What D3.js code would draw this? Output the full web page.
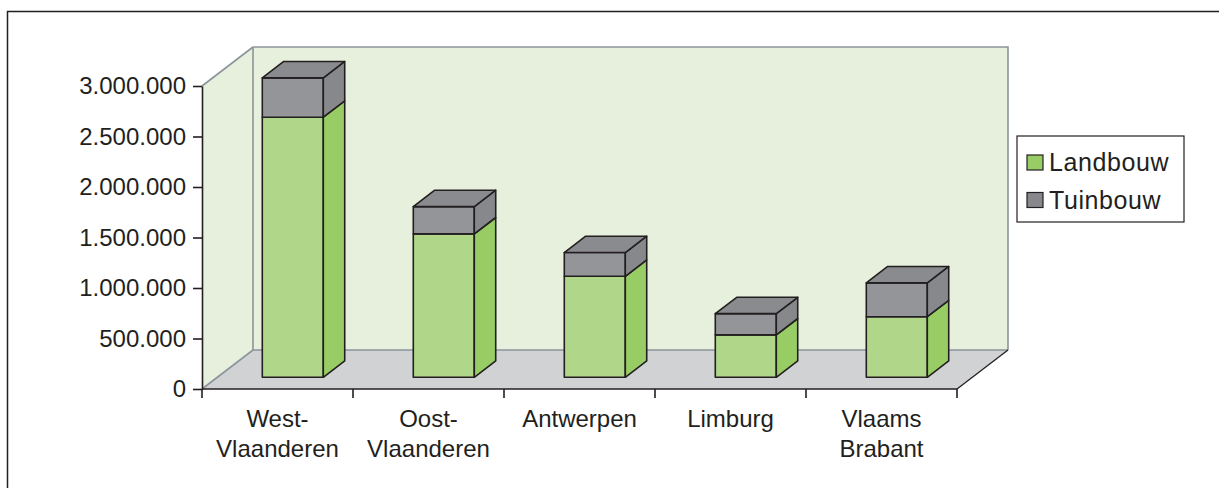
<!DOCTYPE html>
<html>
<head>
<meta charset="utf-8">
<script src="https://cdn.jsdelivr.net/npm/d3@7"></script>
<style>
	html, body { margin: 0; padding: 0; background: #fff; }
	svg text { font-family: "Liberation Sans", Arial, sans-serif; fill: #231f20; }
</style>
</head>
<body>
<div id="chart"></div>
<script>
'use strict';

// data
var provinces = ['West-Vlaanderen', 'Oost-Vlaanderen', 'Antwerpen', 'Limburg', 'Vlaams Brabant'];
var labelLines = [['West-', 'Vlaanderen'], ['Oost-', 'Vlaanderen'], ['Antwerpen'], ['Limburg'], ['Vlaams', 'Brabant']];
var landbouw = [2575000, 1420000, 1000000, 420000, 600000];
var tuinbouw = [390000, 270000, 235000, 210000, 335000];
var yTicks = [0, 500000, 1000000, 1500000, 2000000, 2500000, 3000000];
var seriesNames = ['Landbouw', 'Tuinbouw'];

var W = 1219, H = 488;
var ink = '#231f20';
var wallLine = '#8b959b';
var dx = 51, dy = 39;        // depth of the 3d box
var z1 = 0.3, z2 = 0.72;    // depth of the bars inside the box
var colors = {
	Landbouw: { front: '#b0d68a', side: '#98cc64', top: '#a4d079', legend: '#98cc64' },
	Tuinbouw: { front: '#939598', side: '#86888b', top: '#8a8b8e', legend: '#86888b' }
};

var nl = d3.formatLocale({ decimal: ',', thousands: '.', grouping: [3], currency: ['€', ''] });
var fmt = nl.format(',d');

var svg = d3.select('#chart').append('svg')
	.attr('width', W)
	.attr('height', H);

// outer frame
svg.append('rect')
	.attr('x', 7.5).attr('y', 11.5)
	.attr('width', W + 20).attr('height', H + 20)
	.attr('fill', 'none')
	.attr('stroke', ink)
	.attr('stroke-width', 1.5);

var x = d3.scaleBand().domain(provinces).range([202, 957]).padding(0);
var y = d3.scaleLinear().domain([0, 3000000]).range([389, 86]);
var barW = x.bandwidth() * 0.404;

function P(px, v, z){
	return [px + z*dx, y(v) - z*dy];
}
function poly(pts){
	return 'M' + pts.map(function(p){ return p[0] + ',' + p[1]; }).join('L') + 'Z';
}

var x0 = x.range()[0], x1 = x.range()[1], vMax = y.domain()[1];

// walls and floor
var box = svg.append('g').attr('class', 'box');
box.append('path')
	.attr('d', poly([P(x0, 0, 0), P(x0, vMax, 0), P(x0, vMax, 1), P(x0, 0, 1)]))
	.attr('fill', '#e7f0dc');
box.append('path')
	.attr('d', poly([P(x0, 0, 1), P(x0, vMax, 1), P(x1, vMax, 1), P(x1, 0, 1)]))
	.attr('fill', '#e7f0dc');
box.append('path')
	.attr('d', poly([P(x0, 0, 0), P(x1, 0, 0), P(x1, 0, 1), P(x0, 0, 1)]))
	.attr('fill', '#d1d2d4');

var line = d3.line();
[
	[P(x0, vMax, 0), P(x0, vMax, 1)],
	[P(x0, 0, 0), P(x0, 0, 1)],
	[P(x0, vMax, 1), P(x1, vMax, 1), P(x1, 0, 1)],
	[P(x0, 0, 1), P(x0, vMax, 1)],
	[P(x0, 0, 1), P(x1, 0, 1)]
].forEach(function(seg){
	box.append('path')
		.attr('d', line(seg))
		.attr('fill', 'none')
		.attr('stroke', wallLine)
		.attr('stroke-width', 1.6);
});
box.append('path')
	.attr('d', line([P(x1, 0, 0), P(x1, 0, 1)]))
	.attr('fill', 'none')
	.attr('stroke', ink)
	.attr('stroke-width', 1.3);

// stacked bars
var stack = d3.stack().keys(seriesNames)(provinces.map(function(p, i){
	return { province: p, Landbouw: landbouw[i], Tuinbouw: tuinbouw[i] };
}));

var bars = svg.append('g').attr('class', 'bars')
	.attr('stroke', ink)
	.attr('stroke-width', 1.6)
	.attr('stroke-linejoin', 'round');

provinces.forEach(function(p, i){
	var bx = x(p) + (x.bandwidth() - barW)/2;
	stack.forEach(function(layer, li){
		var lo = layer[i][0], hi = layer[i][1];
		var c = colors[layer.key];
		// front
		bars.append('path')
			.attr('d', poly([P(bx, lo, z1), P(bx + barW, lo, z1), P(bx + barW, hi, z1), P(bx, hi, z1)]))
			.attr('fill', c.front);
		// side
		bars.append('path')
			.attr('d', poly([P(bx + barW, lo, z1), P(bx + barW, lo, z2), P(bx + barW, hi, z2), P(bx + barW, hi, z1)]))
			.attr('fill', c.side);
		// top (only visible on the last segment)
		if(li === stack.length - 1){
			bars.append('path')
				.attr('d', poly([P(bx, hi, z1), P(bx + barW, hi, z1), P(bx + barW, hi, z2), P(bx, hi, z2)]))
				.attr('fill', c.top);
		}
	});
});

// y axis
var yAxis = d3.axisLeft(y)
	.tickValues(yTicks)
	.tickFormat(fmt)
	.tickSizeInner(9)
	.tickSizeOuter(0)
	.tickPadding(7);

var gy = svg.append('g')
	.attr('transform', 'translate(' + x0 + ',0)')
	.call(yAxis);
gy.select('.domain').attr('stroke', ink).attr('stroke-width', 1.6);
gy.selectAll('.tick line').attr('stroke', ink).attr('stroke-width', 1.6);
gy.selectAll('.tick text')
	.attr('font-size', 24)
	.attr('font-family', '"Liberation Sans", Arial, sans-serif')
	.attr('fill', ink);

// x axis: line, boundary ticks, two-line labels
var gx = svg.append('g').attr('class', 'x-axis');
gx.append('line')
	.attr('x1', x0).attr('x2', x1)
	.attr('y1', y(0)).attr('y2', y(0))
	.attr('stroke', ink).attr('stroke-width', 1.6);

var bounds = provinces.map(function(p){ return x(p); }).concat([x1]);
gx.selectAll('line.tick').data(bounds).enter().append('line')
	.attr('class', 'tick')
	.attr('x1', function(d){ return d; }).attr('x2', function(d){ return d; })
	.attr('y1', y(0)).attr('y2', y(0) + 9)
	.attr('stroke', ink).attr('stroke-width', 1.6);

var labels = gx.selectAll('text.lbl').data(provinces).enter().append('text')
	.attr('class', 'lbl')
	.attr('text-anchor', 'middle')
	.attr('font-size', 24)
	.attr('x', function(d){ return x(d) + x.bandwidth()/2; })
	.attr('y', 427);
labels.selectAll('tspan')
	.data(function(d, i){ return labelLines[i]; })
	.enter().append('tspan')
	.attr('x', function(){ return d3.select(this.parentNode).attr('x'); })
	.attr('dy', function(d, i){ return i === 0 ? 0 : 30; })
	.text(function(d){ return d; });

// legend
var legend = svg.append('g').attr('transform', 'translate(1017,136)');
legend.append('rect')
	.attr('width', 167).attr('height', 86)
	.attr('fill', '#fff')
	.attr('stroke', ink)
	.attr('stroke-width', 1.2);
var item = legend.selectAll('g.item').data(seriesNames).enter().append('g')
	.attr('class', 'item')
	.attr('transform', function(d, i){ return 'translate(10,' + (19 + i*37.5) + ')'; });
item.append('rect')
	.attr('width', 16).attr('height', 15)
	.attr('fill', function(d){ return colors[d].legend; })
	.attr('stroke', ink)
	.attr('stroke-width', 1.2);
item.append('text')
	.attr('x', 22).attr('y', 16)
	.attr('font-size', 25)
	.attr('letter-spacing', 0.6)
	.text(function(d){ return d; });
</script>
</body>
</html>
